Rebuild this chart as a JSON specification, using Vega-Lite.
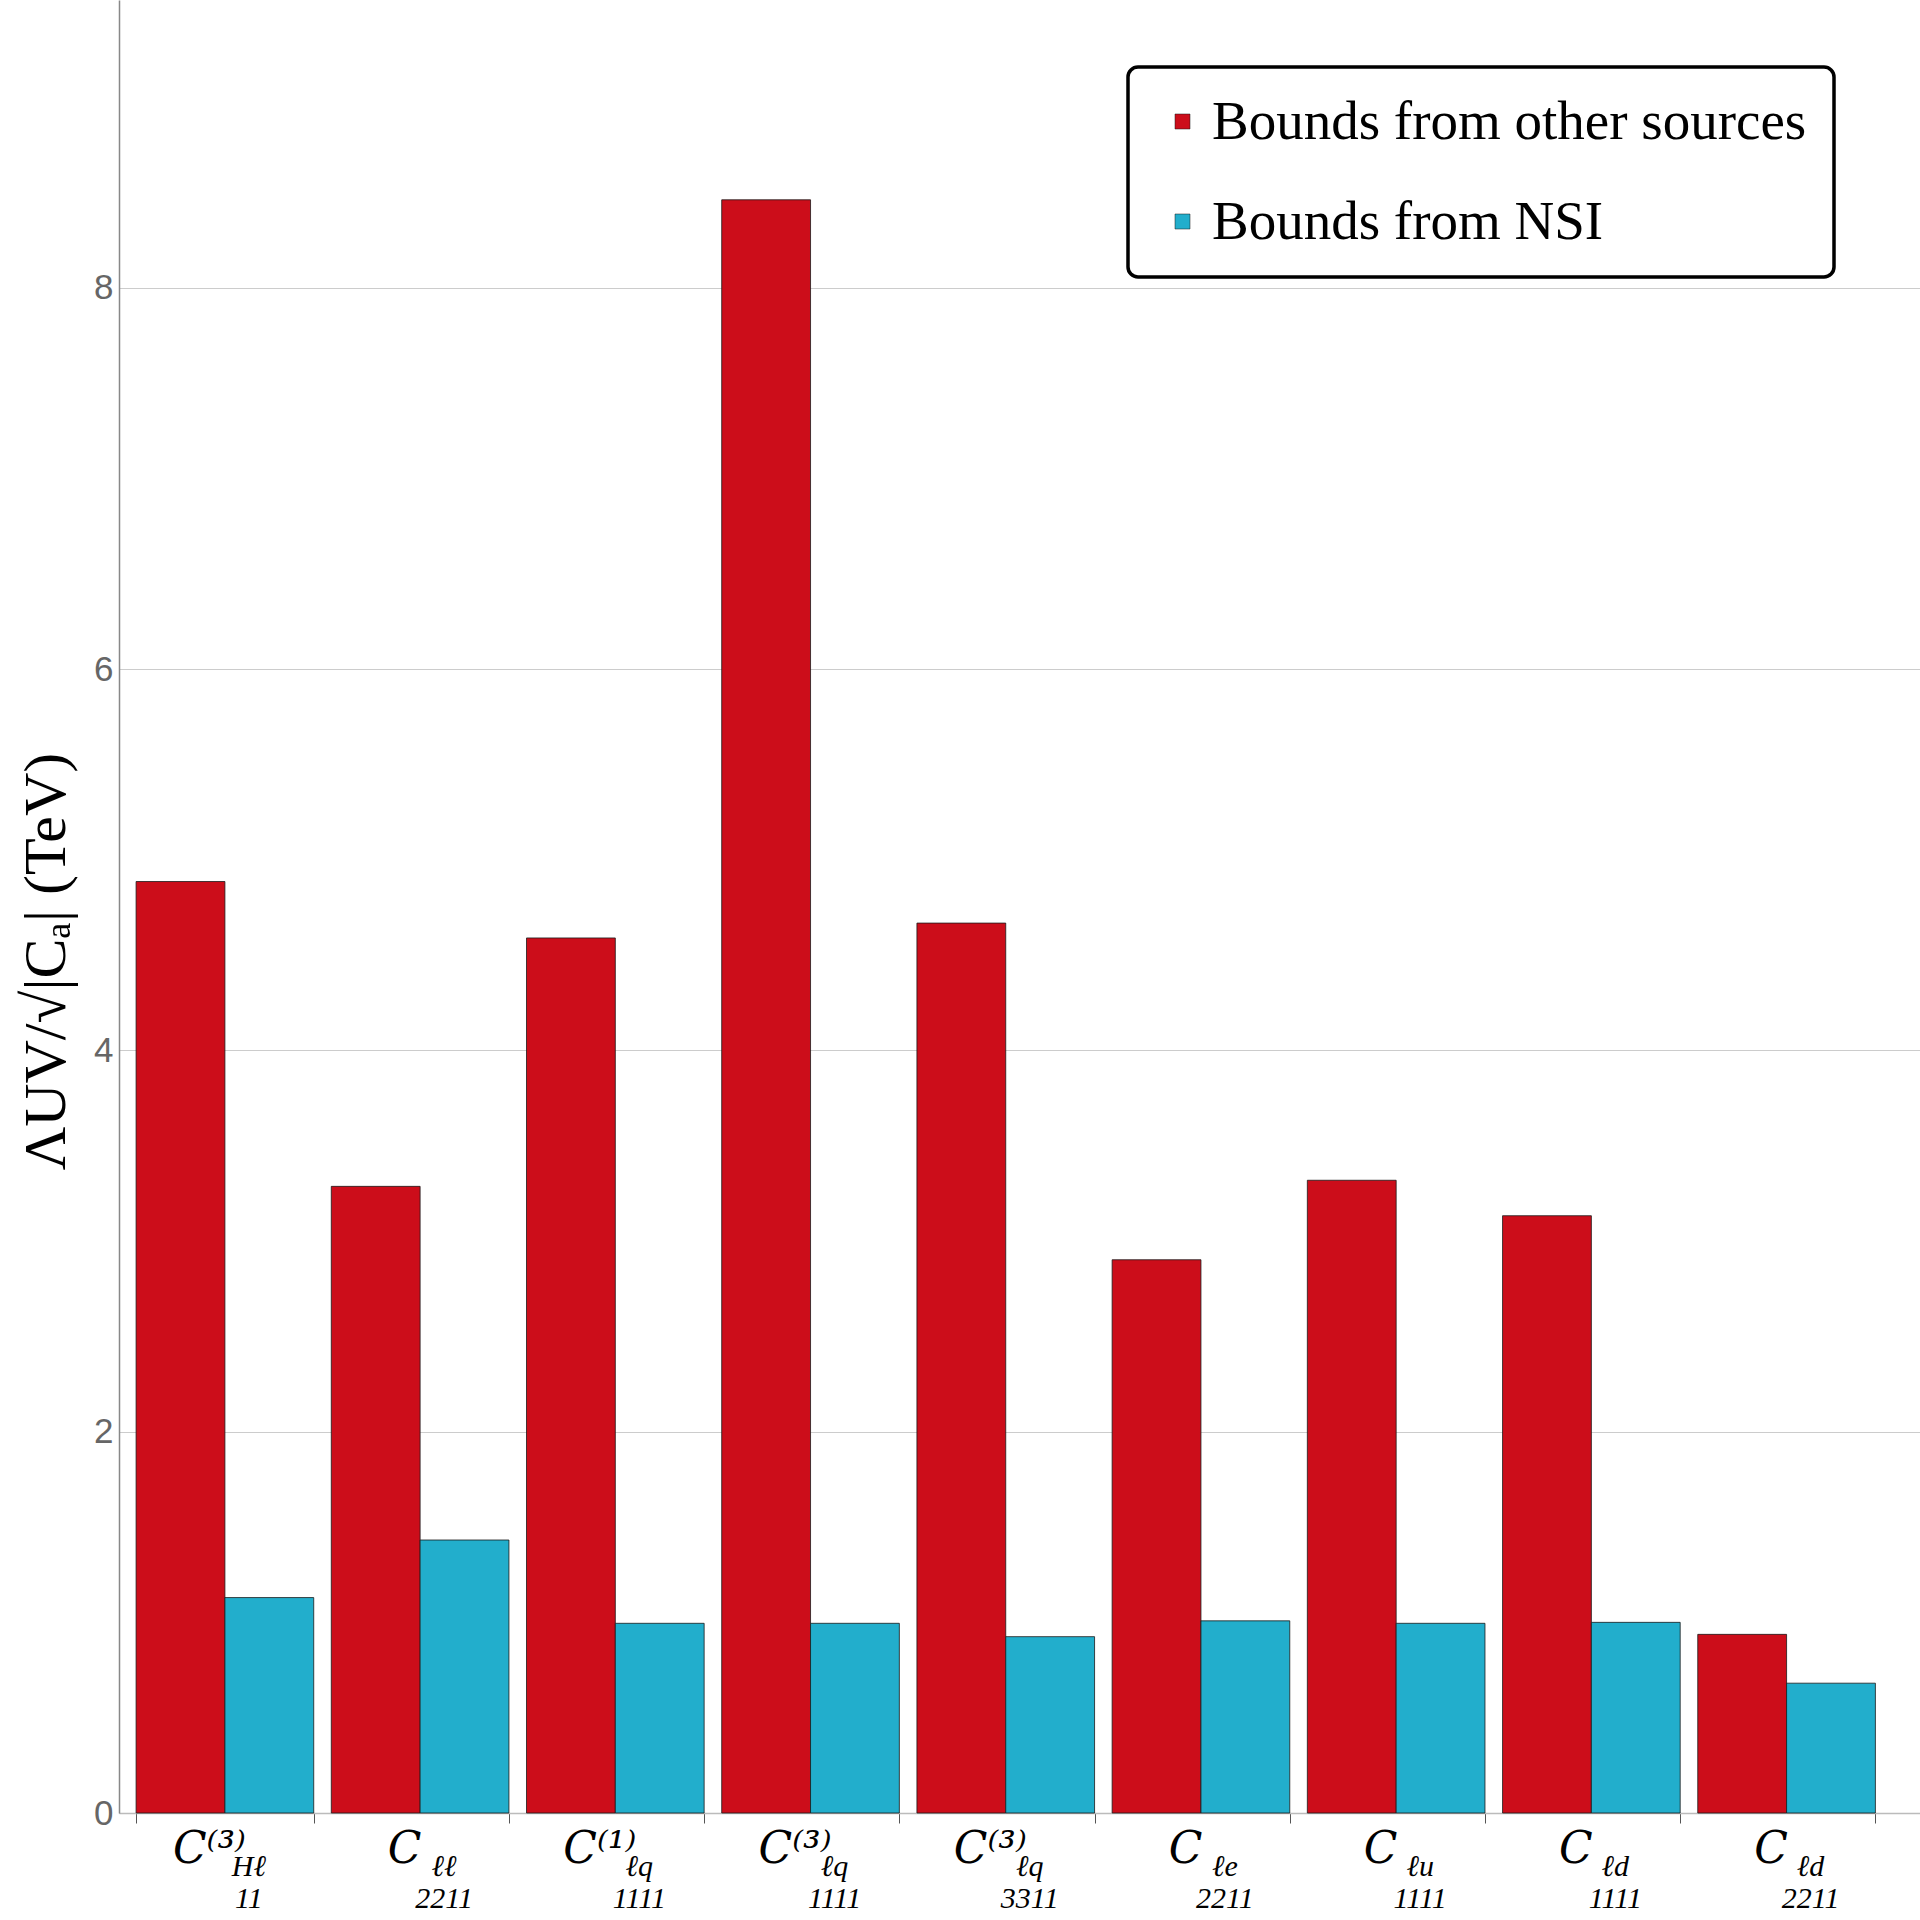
{
  "$schema": "https://vega.github.io/schema/vega-lite/v6.json",
  "width": 1801,
  "height": 1813,
  "autosize": {"type": "none"},
  "padding": {"left": 119, "top": 0, "right": 0, "bottom": 107},
  "background": "white",
  "config": {
    "view": {"stroke": null},
    "legend": {"strokeColor": "black", "strokeWidth": 3.5, "cornerRadius": 10, "fillColor": "white"}
  },
  "data": {
    "values": [
      {"operator": "C⁽³⁾ Hℓ 11", "sub": ["Hℓ", "11"], "source": "Bounds from other sources", "bound": 4.886},
      {"operator": "C⁽³⁾ Hℓ 11", "sub": ["Hℓ", "11"], "source": "Bounds from NSI", "bound": 1.13},
      {"operator": "C ℓℓ 2211", "sub": ["ℓℓ", "2211"], "source": "Bounds from other sources", "bound": 3.287},
      {"operator": "C ℓℓ 2211", "sub": ["ℓℓ", "2211"], "source": "Bounds from NSI", "bound": 1.432},
      {"operator": "C⁽¹⁾ ℓq 1111", "sub": ["ℓq", "1111"], "source": "Bounds from other sources", "bound": 4.59},
      {"operator": "C⁽¹⁾ ℓq 1111", "sub": ["ℓq", "1111"], "source": "Bounds from NSI", "bound": 0.995},
      {"operator": "C⁽³⁾ ℓq 1111", "sub": ["ℓq", "1111"], "source": "Bounds from other sources", "bound": 8.462},
      {"operator": "C⁽³⁾ ℓq 1111", "sub": ["ℓq", "1111"], "source": "Bounds from NSI", "bound": 0.995},
      {"operator": "C⁽³⁾ ℓq 3311", "sub": ["ℓq", "3311"], "source": "Bounds from other sources", "bound": 4.668},
      {"operator": "C⁽³⁾ ℓq 3311", "sub": ["ℓq", "3311"], "source": "Bounds from NSI", "bound": 0.925},
      {"operator": "C ℓe 2211", "sub": ["ℓe", "2211"], "source": "Bounds from other sources", "bound": 2.902},
      {"operator": "C ℓe 2211", "sub": ["ℓe", "2211"], "source": "Bounds from NSI", "bound": 1.008},
      {"operator": "C ℓu 1111", "sub": ["ℓu", "1111"], "source": "Bounds from other sources", "bound": 3.319},
      {"operator": "C ℓu 1111", "sub": ["ℓu", "1111"], "source": "Bounds from NSI", "bound": 0.995},
      {"operator": "C ℓd 1111", "sub": ["ℓd", "1111"], "source": "Bounds from other sources", "bound": 3.133},
      {"operator": "C ℓd 1111", "sub": ["ℓd", "1111"], "source": "Bounds from NSI", "bound": 1.0},
      {"operator": "C ℓd 2211", "sub": ["ℓd", "2211"], "source": "Bounds from other sources", "bound": 0.937},
      {"operator": "C ℓd 2211", "sub": ["ℓd", "2211"], "source": "Bounds from NSI", "bound": 0.681}
    ]
  },
  "layer": [
    {
      "mark": {"type": "bar", "stroke": "#1a1a1a", "strokeWidth": 0.8},
      "encoding": {
        "x": {
          "field": "operator",
          "type": "nominal",
          "sort": null,
          "scale": {"paddingInner": 0.09, "paddingOuter": 0.158, "align": 0.277},
          "axis": {
            "title": null,
            "labelAngle": 0,
            "labelExpr": "split(datum.label, ' ')[0]",
            "labelFont": "DejaVu Serif",
            "labelFontStyle": "italic",
            "labelFontSize": 44,
            "labelColor": "black",
            "labelBaseline": "top",
            "labelPadding": 4,
            "labelOffset": -16,
            "tickBand": "extent",
            "tickSize": 10,
            "tickColor": "#555555",
            "domainColor": "#bbbbbb",
            "domainWidth": 1.5
          }
        },
        "xOffset": {
          "field": "source",
          "type": "nominal",
          "sort": ["Bounds from other sources", "Bounds from NSI"],
          "scale": {"paddingInner": 0, "paddingOuter": 0}
        },
        "y": {
          "field": "bound",
          "type": "quantitative",
          "scale": {"domain": [0, 9.51], "nice": false},
          "axis": {
            "values": [0, 2, 4, 6, 8],
            "format": "d",
            "title": "ΛUV/√|Cₐ| (TeV)",
            "titleFont": "Liberation Serif",
            "titleFontSize": 60,
            "titleFontWeight": "normal",
            "titleColor": "black",
            "titleX": -42,
            "titleY": 961,
            "titleAngle": -90,
            "titleBaseline": "bottom",
            "labelFont": "Liberation Sans",
            "labelFontSize": 35,
            "labelColor": "#666666",
            "labelPadding": 6,
            "ticks": false,
            "domainColor": "#888888",
            "domainWidth": 1.5,
            "gridColor": "#cccccc",
            "gridWidth": 1.2
          }
        },
        "color": {
          "field": "source",
          "type": "nominal",
          "sort": ["Bounds from other sources", "Bounds from NSI"],
          "scale": {
            "domain": ["Bounds from other sources", "Bounds from NSI"],
            "range": ["#cc0d1a", "#22aecc"]
          },
          "legend": {
            "title": null,
            "orient": "none",
            "legendX": 1009,
            "legendY": 67,
            "direction": "vertical",
            "labelFont": "Liberation Serif",
            "labelFontSize": 55,
            "labelColor": "black",
            "labelLimit": 900,
            "labelOffset": 2,
            "symbolType": "square",
            "symbolSize": 225,
            "symbolStrokeWidth": 0.5,
            "rowPadding": 44,
            "padding": 27
          }
        }
      }
    },
    {
      "transform": [{"filter": "datum.source === 'Bounds from NSI'"}],
      "mark": {
        "type": "text",
        "font": "Liberation Serif",
        "fontStyle": "italic",
        "fontSize": 30,
        "lineHeight": 32,
        "baseline": "top",
        "align": "center",
        "dx": 24,
        "dy": 39,
        "color": "black"
      },
      "encoding": {
        "x": {"field": "operator", "type": "nominal", "sort": null},
        "y": {"datum": 0, "type": "quantitative"},
        "text": {"field": "sub", "type": "nominal"}
      }
    }
  ]
}
